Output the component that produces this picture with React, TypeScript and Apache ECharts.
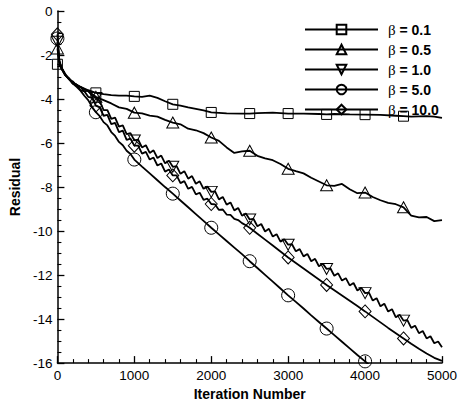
import { useEffect, useRef } from "react";
import * as echarts from "echarts";

// ---- data ----
const seriesNames = ["β = 0.1", "β = 0.5", "β = 1.0", "β = 5.0", "β = 10.0"];

const iterB01 = [0, 25, 50, 100, 200, 300, 400, 500, 600, 700, 800, 900, 1000, 1100, 1200, 1300, 1400, 1500, 1600, 1700, 1800, 1900, 2000, 2200, 2400, 2500, 2600, 2800, 3000, 3200, 3400, 3500, 3600, 3800, 4000, 4200, 4400, 4500, 4600, 4800, 4900, 5000];
const resB01 = [-2.42, -2.45, -2.6, -2.9, -3.25, -3.45, -3.6, -3.72, -3.78, -3.82, -3.85, -3.85, -3.88, -3.9, -3.85, -3.95, -4.1, -4.24, -4.3, -4.38, -4.45, -4.52, -4.61, -4.65, -4.66, -4.66, -4.64, -4.62, -4.66, -4.66, -4.68, -4.7, -4.68, -4.7, -4.71, -4.72, -4.76, -4.78, -4.8, -4.78, -4.8, -4.86];

const iterB05 = [0, 25, 50, 100, 200, 300, 400, 500, 600, 700, 800, 900, 1000, 1100, 1200, 1300, 1400, 1500, 1600, 1700, 1800, 1900, 2000, 2100, 2200, 2300, 2400, 2500, 2600, 2700, 2800, 2900, 3000, 3100, 3200, 3300, 3400, 3500, 3600, 3700, 3800, 3900, 4000, 4100, 4200, 4300, 4400, 4500, 4600, 4700, 4800, 4900, 5000];
const resB05 = [-1.7, -2.35, -2.6, -2.9, -3.25, -3.45, -3.65, -3.9, -4.05, -4.2, -4.38, -4.45, -4.62, -4.65, -4.75, -4.8, -4.95, -5.07, -5.15, -5.35, -5.42, -5.55, -5.75, -5.9, -6.2, -6.45, -6.38, -6.35, -6.58, -6.7, -6.78, -6.95, -7.17, -7.28, -7.38, -7.58, -7.75, -7.92, -7.95, -7.86, -8.1, -8.28, -8.25, -8.45, -8.6, -8.72, -8.78, -8.92, -9.3, -9.38, -9.36, -9.55, -9.5];

const iterB10 = [0, 25, 50, 100, 150, 200, 250, 300, 350, 400, 450, 500, 550, 600, 650, 700, 750, 800, 850, 900, 950, 1000, 1050, 1100, 1150, 1200, 1250, 1300, 1350, 1400, 1450, 1500, 1550, 1600, 1650, 1700, 1750, 1800, 1850, 1900, 1950, 2000, 2050, 2100, 2150, 2200, 2250, 2300, 2350, 2400, 2450, 2500, 2550, 2600, 2650, 2700, 2750, 2800, 2850, 2900, 2950, 3000, 3050, 3100, 3150, 3200, 3250, 3300, 3350, 3400, 3450, 3500, 3550, 3600, 3650, 3700, 3750, 3800, 3850, 3900, 3950, 4000, 4050, 4100, 4150, 4200, 4250, 4300, 4350, 4400, 4450, 4500, 4550, 4600, 4650, 4700, 4750, 4800, 4850, 4900, 4950, 5000];
const resB10 = [-1.4, -2.3, -2.55, -2.85, -3.1, -3.2, -3.4, -3.45, -3.65, -3.62, -3.85, -3.95, -4.08, -4.5, -4.5, -4.9, -4.85, -5.25, -5.2, -5.6, -5.55, -5.88, -5.85, -6.2, -6.1, -6.45, -6.33, -6.68, -6.57, -6.92, -6.8, -7.08, -7.05, -7.4, -7.28, -7.62, -7.5, -7.85, -7.74, -8.08, -7.98, -8.22, -8.2, -8.56, -8.45, -8.8, -8.7, -9.06, -8.95, -9.3, -9.2, -9.47, -9.45, -9.78, -9.68, -10.02, -9.9, -10.25, -10.14, -10.48, -10.37, -10.62, -10.6, -10.92, -10.82, -11.15, -11.04, -11.37, -11.26, -11.6, -11.48, -11.72, -11.7, -12.03, -11.92, -12.25, -12.14, -12.47, -12.36, -12.7, -12.58, -12.82, -12.8, -13.16, -13.05, -13.42, -13.3, -13.66, -13.55, -13.92, -13.8, -14.07, -14.05, -14.4, -14.3, -14.64, -14.54, -14.88, -14.78, -15.1, -15.02, -15.28];

const iterB50 = [0, 25, 50, 100, 150, 200, 250, 300, 350, 400, 450, 500, 550, 600, 650, 700, 750, 800, 850, 900, 950, 1000, 1100, 1200, 1300, 1400, 1500, 1600, 1700, 1800, 1900, 2000, 2100, 2200, 2300, 2400, 2500, 2600, 2700, 2800, 2900, 3000, 3100, 3200, 3300, 3400, 3500, 3600, 3700, 3800, 3900, 4000, 4050];
const resB50 = [-1.25, -2.3, -2.55, -2.9, -3.1, -3.3, -3.45, -3.62, -3.85, -4.05, -4.35, -4.6, -4.78, -5.05, -5.2, -5.5, -5.68, -5.95, -6.1, -6.35, -6.5, -6.75, -7.07, -7.38, -7.69, -8.0, -8.3, -8.61, -8.92, -9.23, -9.54, -9.85, -10.15, -10.45, -10.75, -11.05, -11.37, -11.68, -11.99, -12.3, -12.61, -12.92, -13.22, -13.52, -13.83, -14.13, -14.43, -14.73, -15.03, -15.33, -15.63, -15.92, -16.07];

const iterB100 = [0, 25, 50, 100, 150, 200, 250, 300, 350, 400, 450, 500, 550, 600, 650, 700, 750, 800, 850, 900, 950, 1000, 1050, 1100, 1150, 1200, 1250, 1300, 1350, 1400, 1450, 1500, 1550, 1600, 1650, 1700, 1750, 1800, 1850, 1900, 1950, 2000, 2050, 2100, 2150, 2200, 2250, 2300, 2350, 2400, 2450, 2500, 2600, 2700, 2800, 2900, 3000, 3100, 3200, 3300, 3400, 3500, 3600, 3700, 3800, 3900, 4000, 4100, 4200, 4300, 4400, 4500, 4600, 4700, 4800, 4900, 5000];
const resB100 = [-1.06, -2.25, -2.55, -2.9, -3.05, -3.3, -3.35, -3.6, -3.65, -3.9, -3.95, -4.3, -4.38, -4.76, -4.72, -5.14, -5.08, -5.5, -5.44, -5.86, -5.8, -6.12, -6.12, -6.48, -6.4, -6.75, -6.66, -7.02, -6.93, -7.3, -7.2, -7.47, -7.47, -7.82, -7.73, -8.08, -7.99, -8.33, -8.26, -8.58, -8.53, -8.77, -8.79, -9.04, -9.02, -9.25, -9.26, -9.45, -9.5, -9.64, -9.74, -9.85, -10.12, -10.39, -10.66, -10.93, -11.2, -11.45, -11.7, -11.95, -12.2, -12.45, -12.69, -12.93, -13.17, -13.41, -13.65, -13.9, -14.15, -14.4, -14.64, -14.88, -15.12, -15.35, -15.56, -15.76, -15.9];

const seriesIters = [iterB01, iterB05, iterB10, iterB50, iterB100];
const seriesRes = [resB01, resB05, resB10, resB50, resB100];
const markerShapes = ["rect", "triangle", "triangle", "circle", "diamond"];
const markerRotate = [0, 0, 180, 0, 0];
const markerSizes: any[] = [[10, 10], [12, 11], [12, 11], 13, [12, 13]];
const markerStep = 500;

const xMin = 0, xMax = 5000, xStep = 1000;
const yMin = -16, yMax = 0, yStep = 2;

export default function App() {
  const ref = useRef<HTMLDivElement>(null);
  useEffect(() => {
    if (!ref.current) return;
    const chart = echarts.init(ref.current, null, { renderer: "svg" });
    const font = "Liberation Sans, Arial, Helvetica, sans-serif";
    const series = seriesNames.map((name, s) => ({
      name,
      type: "line",
      symbol: markerShapes[s],
      symbolSize: markerSizes[s],
      symbolRotate: markerRotate[s],
      showAllSymbol: true,
      clip: true,
      lineStyle: { color: "#000", width: 1.8 },
      itemStyle: { color: "transparent", borderColor: "#000", borderWidth: 1 },
      emphasis: { disabled: true },
      z: 2 + s,
      data: seriesIters[s].map((x, i) =>
        x % markerStep === 0 && x < xMax
          ? { value: [x, seriesRes[s][i]] }
          : { value: [x, seriesRes[s][i]], symbol: "none" }
      ),
    }));
    chart.setOption({
      animation: false,
      backgroundColor: "#fff",
      grid: { left: 56, right: 18, top: 11, bottom: 34, containLabel: false },
      legend: {
        orient: "vertical",
        left: 304,
        top: 22,
        padding: 0,
        itemWidth: 73,
        itemHeight: 12,
        itemGap: 5,
        selectedMode: false,
        data: seriesNames,
        formatter: (name: string) => `{g|β}{t|${name.slice(1)}}`,
        textStyle: {
          color: "#000",
          padding: [0, 0, 0, 5],
          rich: {
            g: { fontFamily: "Liberation Serif, DejaVu Serif, serif", fontSize: 15, lineHeight: 14, color: "#000" },
            t: { fontFamily: font, fontWeight: "bold", fontSize: 14, lineHeight: 14, color: "#000" },
          },
        },
      },
      xAxis: {
        type: "value",
        min: xMin,
        max: xMax,
        interval: xStep,
        name: "Iteration Number",
        nameLocation: "middle",
        nameGap: 15,
        nameTextStyle: { fontFamily: font, fontWeight: "bold", fontSize: 14, color: "#000" },
        axisLine: { show: true, onZero: false, lineStyle: { color: "#000", width: 1.5 } },
        axisTick: { show: true, inside: true, length: 7, lineStyle: { color: "#000", width: 1.3 } },
        minorTick: { show: true, splitNumber: 5, length: 4, lineStyle: { color: "#000", width: 1.1 } },
        axisLabel: { fontFamily: font, fontSize: 13.5, color: "#000", margin: 5, formatter: (v: number) => String(v) },
        splitLine: { show: false },
      },
      yAxis: {
        type: "value",
        min: yMin,
        max: yMax,
        interval: yStep,
        name: "Residual",
        nameLocation: "middle",
        nameGap: 16,
        nameTextStyle: { fontFamily: font, fontWeight: "bold", fontSize: 14, color: "#000" },
        axisLine: { show: true, onZero: false, lineStyle: { color: "#000", width: 1.5 } },
        axisTick: { show: true, inside: true, length: 7, lineStyle: { color: "#000", width: 1.3 } },
        minorTick: { show: true, splitNumber: 4, length: 4, lineStyle: { color: "#000", width: 1.1 } },
        axisLabel: { fontFamily: font, fontSize: 13.5, color: "#000", margin: 5, formatter: (v: number) => String(v) },
        splitLine: { show: false },
      },
      series,
    });
    return () => chart.dispose();
  }, []);
  return (
    <div
      ref={ref}
      style={{ position: "absolute", left: 0, top: 0, width: 460, height: 406 }}
    />
  );
}
